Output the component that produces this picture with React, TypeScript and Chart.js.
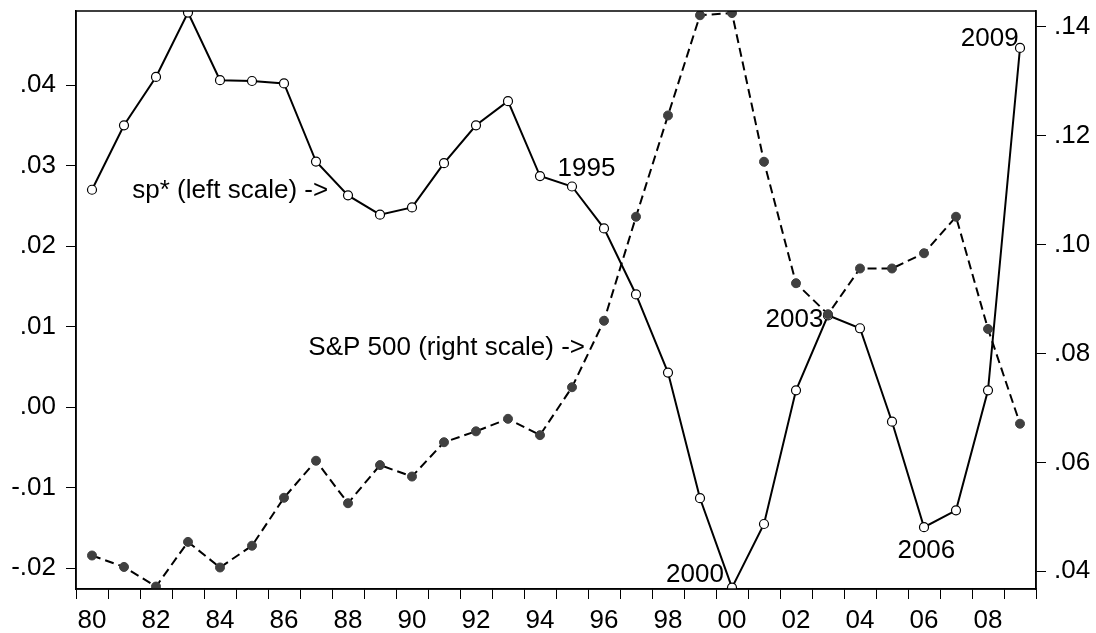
import React, { useEffect, useRef } from 'react';
import { Chart, registerables } from 'chart.js';

Chart.register(...registerables);

const years: number[] = [
  1980, 1981, 1982, 1983, 1984, 1985, 1986, 1987, 1988, 1989,
  1990, 1991, 1992, 1993, 1994, 1995, 1996, 1997, 1998, 1999,
  2000, 2001, 2002, 2003, 2004, 2005, 2006, 2007, 2008, 2009,
];

// sp* (left scale)
const spStar: number[] = [
  0.0270, 0.0350, 0.0410, 0.0490, 0.0406, 0.0405, 0.0402, 0.0305, 0.0263, 0.0239,
  0.0248, 0.0303, 0.0350, 0.0380, 0.0287, 0.0274, 0.0222, 0.0140, 0.0043, -0.0113,
  -0.0224, -0.0145, 0.0021, 0.0114, 0.0098, -0.0018, -0.0149, -0.0128, 0.0021, 0.0446,
];

// S&P 500 (right scale)
const sp500: number[] = [
  0.0429, 0.0408, 0.0372, 0.0454, 0.0407, 0.0447, 0.0535, 0.0603, 0.0525, 0.0595,
  0.0574, 0.0637, 0.0657, 0.0680, 0.0650, 0.0738, 0.0860, 0.1051, 0.1237, 0.1421,
  0.1425, 0.1152, 0.0929, 0.0872, 0.0956, 0.0956, 0.0984, 0.1051, 0.0845, 0.0671,
];

const leftTicks: number[] = [-0.02, -0.01, 0.0, 0.01, 0.02, 0.03, 0.04];
const rightTicks: number[] = [0.04, 0.06, 0.08, 0.1, 0.12, 0.14];
const leftRange: number[] = [-0.02257, 0.04919];
const rightRange: number[] = [0.03675, 0.14288];

// text annotations, anchored in data coordinates (year, value, axis)
const noteTexts: string[] = ['sp* (left scale) ->', '1995', 'S&P 500 (right scale) ->', '2000', '2003', '2006', '2009'];
const noteYears: number[] = [1981.26, 1994.55, 1986.76, 1997.94, 2001.05, 2005.17, 2007.15];
const noteValues: number[] = [0.02596, 0.0287, 0.07969, -0.0217, 0.00998, -0.01872, 0.04484];
const noteAxes: string[] = ['yL', 'yL', 'yR', 'yL', 'yL', 'yL', 'yL'];

const FONT = '"Liberation Sans", Arial, Helvetica, sans-serif';
const FSIZE = 26;

const fmt = (v: number) => {
  const x = Math.abs(v) < 1e-9 ? 0 : v;
  return x.toFixed(2).replace(/^(-?)0\./, '$1.');
};

const frame = {
  id: 'frame',
  afterDatasetsDraw(chart: any) {
    const { ctx, chartArea } = chart;
    ctx.save();
    ctx.strokeStyle = '#000';
    ctx.lineWidth = 1.5;
    ctx.strokeRect(chartArea.left, chartArea.top, chartArea.right - chartArea.left, chartArea.bottom - chartArea.top);
    ctx.restore();
  },
};

const notes = {
  id: 'notes',
  afterDraw(chart: any) {
    const { ctx } = chart;
    const xs = chart.scales.x;
    ctx.save();
    ctx.font = `${FSIZE}px ${FONT}`;
    ctx.fillStyle = '#000';
    ctx.textAlign = 'left';
    ctx.textBaseline = 'alphabetic';
    noteTexts.forEach((t, i) => {
      const px = xs.getPixelForValue(noteYears[i] - years[0]);
      const py = chart.scales[noteAxes[i]].getPixelForValue(noteValues[i]);
      ctx.fillText(t, px, py);
    });
    ctx.restore();
  },
};

export default function App() {
  const ref = useRef<HTMLCanvasElement | null>(null);

  useEffect(() => {
    document.body.style.margin = '0';
    Chart.defaults.font.family = FONT;
    const chart = new Chart(ref.current as HTMLCanvasElement, {
      type: 'line',
      data: {
        labels: years.map(String),
        datasets: [
          {
            label: 'S&P 500',
            data: sp500,
            yAxisID: 'yR',
            borderColor: '#000',
            borderWidth: 2,
            borderDash: [9, 5],
            pointRadius: 4.5,
            pointBackgroundColor: '#404040',
            pointBorderColor: '#404040',
            pointBorderWidth: 1,
            tension: 0,
            clip: 0,
          },
          {
            label: 'sp*',
            data: spStar,
            yAxisID: 'yL',
            borderColor: '#000',
            borderWidth: 2,
            pointRadius: 4.5,
            pointBackgroundColor: '#fff',
            pointBorderColor: '#000',
            pointBorderWidth: 1.2,
            tension: 0,
            clip: 0,
          },
        ],
      },
      options: {
        responsive: false,
        animation: false,
        events: [],
        layout: { padding: { top: 11, left: 0, right: 0, bottom: 0 } },
        plugins: { legend: { display: false }, tooltip: { enabled: false } },
        scales: {
          x: {
            type: 'category',
            offset: true,
            grid: { offset: true, drawOnChartArea: false, drawTicks: true, tickLength: 10, color: '#000', lineWidth: 1 },
            border: { display: true, color: '#000', width: 1.5 },
            ticks: {
              autoSkip: false,
              maxRotation: 0,
              minRotation: 0,
              padding: 6,
              color: '#000',
              font: { size: FSIZE, family: FONT },
              callback: (_v: any, i: number) => (years[i] % 2 === 0 ? String(years[i]).slice(2) : ''),
            },
            afterFit: (s: any) => { s.height = 44; s.paddingLeft = 0; s.paddingRight = 0; },
          },
          yL: {
            type: 'linear',
            position: 'left',
            min: leftRange[0],
            max: leftRange[1],
            grid: { drawOnChartArea: false, drawTicks: true, tickLength: 10, color: '#000', lineWidth: 1 },
            border: { display: true, color: '#000', width: 1.5 },
            ticks: { padding: 10, color: '#000', font: { size: FSIZE, family: FONT }, callback: (v: any) => fmt(Number(v)) },
            afterBuildTicks: (s: any) => { s.ticks = leftTicks.map((v) => ({ value: v })); },
            afterFit: (s: any) => { s.width = 76; s.paddingTop = 0; s.paddingBottom = 0; },
          },
          yR: {
            type: 'linear',
            position: 'right',
            min: rightRange[0],
            max: rightRange[1],
            grid: { drawOnChartArea: false, drawTicks: true, tickLength: 10, color: '#000', lineWidth: 1 },
            border: { display: true, color: '#000', width: 1.5 },
            ticks: { padding: 8, color: '#000', font: { size: FSIZE, family: FONT }, callback: (v: any) => fmt(Number(v)) },
            afterBuildTicks: (s: any) => { s.ticks = rightTicks.map((v) => ({ value: v })); },
            afterFit: (s: any) => { s.width = 60; s.paddingTop = 0; s.paddingBottom = 0; },
          },
        },
      },
      plugins: [frame, notes],
    } as any);
    return () => chart.destroy();
  }, []);

  return (
    <div style={{ position: 'absolute', left: 0, top: 0, width: 1096, height: 633, background: '#fff' }}>
      <canvas ref={ref} width={1096} height={633} style={{ display: 'block' }} />
    </div>
  );
}
